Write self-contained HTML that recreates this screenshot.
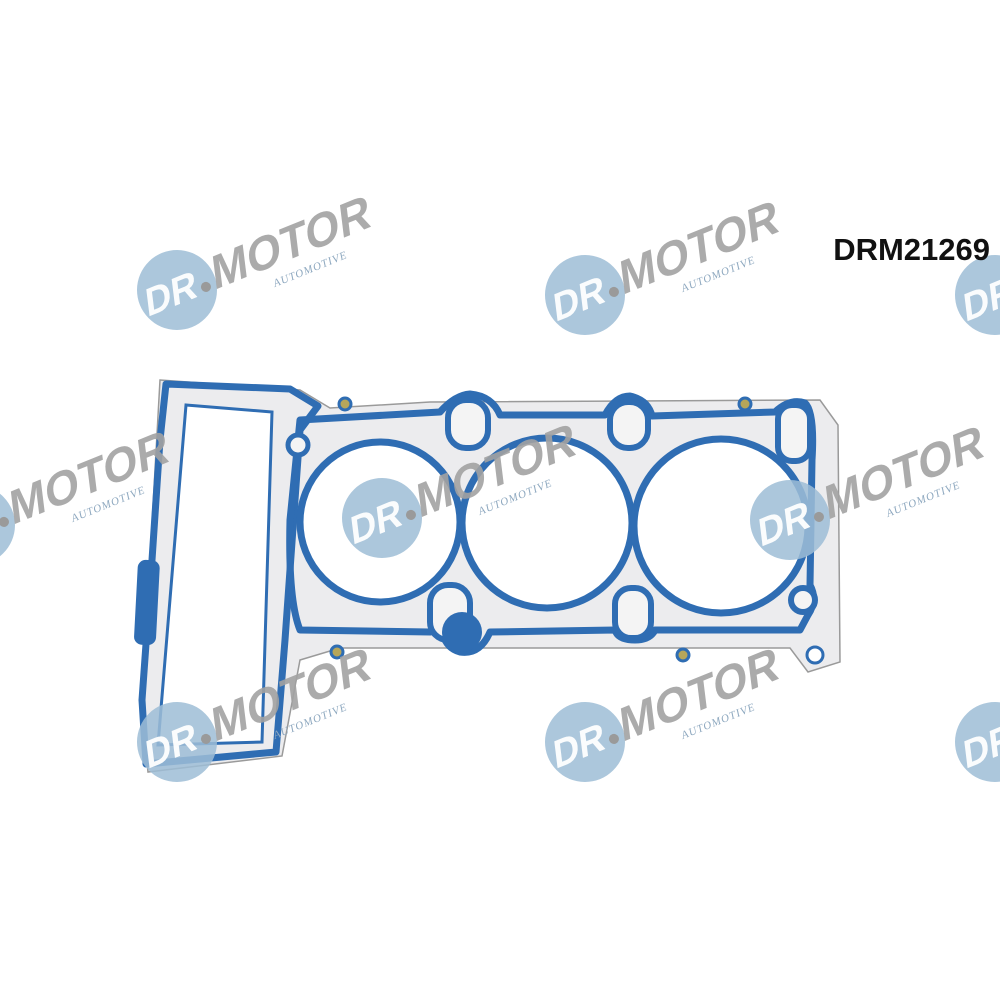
<!DOCTYPE html>
<html><head><meta charset="utf-8"><style>
html,body{margin:0;padding:0;background:#fff}
svg{display:block}
</style></head><body>
<svg width="1000" height="1000" viewBox="0 0 1000 1000" xmlns="http://www.w3.org/2000/svg">
<defs>
<g id="wm">
  <circle cx="0" cy="0" r="40" fill="#9dbdd6" opacity="0.85"/>
  <g transform="skewX(-15)">
  <text x="-34" y="14" font-family="Liberation Sans, sans-serif" font-weight="bold" font-size="38" fill="#fff" opacity="0.95">DR</text>
  <text x="38" y="14" font-family="Liberation Sans, sans-serif" font-weight="bold" font-size="46" fill="#a2a2a2" opacity="0.9">MOTOR</text>
  </g>
  <circle cx="28" cy="8" r="5" fill="#9a9a9a"/>
  <text x="92" y="34" font-family="Liberation Serif, serif" font-style="italic" font-size="11" fill="#8fa9c0" letter-spacing="1">AUTOMOTIVE</text>
</g>
</defs>
<rect width="1000" height="1000" fill="#fff"/>

<path d="M160,380 L300,390 L330,408 L430,402 L820,400 L838,425 L840,662 L808,672 L790,648 L340,648 L300,660 L282,756 L148,772 L140,700 L150,560 Z" fill="#ececee" stroke="#9a9a9a" stroke-width="1.5"/>
<path d="M186,405 L272,412 L262,742 L158,745 Z" fill="#fff" stroke="#2f6db3" stroke-width="3"/>
<path d="M166,384 L290,389 L318,406 L300,430 L285,640 L276,752 L146,764 L142,700 L152,560 L160,440 Z" fill="none" stroke="#2f6db3" stroke-width="7" stroke-linejoin="round"/>
<rect x="136" y="560" width="22" height="85" rx="8" fill="#2f6db3" transform="rotate(3 147 600)"/>

<path d="M300,420 L440,412 Q455,395 470,394 Q492,396 500,415 L605,415 Q615,396 630,396 Q648,400 652,416 L775,412 Q790,398 805,403 Q815,412 812,460 L810,585 Q818,600 808,615 L800,630 L655,630 Q650,640 635,640 Q618,640 615,630 L490,632 Q480,655 460,652 Q445,648 442,630 L430,632 L300,630 Q288,600 290,520 Z" fill="none" stroke="#2f6db3" stroke-width="7" stroke-linejoin="round"/>
<circle cx="380" cy="522" r="80" fill="#fff" stroke="#2f6db3" stroke-width="7"/>
<circle cx="547" cy="523" r="85" fill="#fff" stroke="#2f6db3" stroke-width="7"/>
<circle cx="721" cy="526" r="87" fill="#fff" stroke="#2f6db3" stroke-width="7"/>
<rect x="448" y="400" width="40" height="48" rx="18" fill="#f4f4f4" stroke="#2f6db3" stroke-width="6"/>
<rect x="610" y="402" width="38" height="46" rx="18" fill="#f4f4f4" stroke="#2f6db3" stroke-width="6"/>
<rect x="778" y="405" width="32" height="56" rx="14" fill="#f4f4f4" stroke="#2f6db3" stroke-width="6"/>
<rect x="430" y="585" width="40" height="55" rx="18" fill="#f4f4f4" stroke="#2f6db3" stroke-width="6"/>
<rect x="615" y="588" width="36" height="50" rx="16" fill="#f4f4f4" stroke="#2f6db3" stroke-width="6"/>
<circle cx="803" cy="600" r="12" fill="#f4f4f4" stroke="#2f6db3" stroke-width="6"/>
<circle cx="298" cy="445" r="10" fill="#f4f4f4" stroke="#2f6db3" stroke-width="5"/>
<circle cx="462" cy="632" r="20" fill="#2f6db3"/>
<circle cx="345" cy="404" r="6" fill="#b6a65a" stroke="#2f6db3" stroke-width="3"/>
<circle cx="745" cy="404" r="6" fill="#b6a65a" stroke="#2f6db3" stroke-width="3"/>
<circle cx="337" cy="652" r="6" fill="#b6a65a" stroke="#2f6db3" stroke-width="3"/>
<circle cx="683" cy="655" r="6" fill="#b6a65a" stroke="#2f6db3" stroke-width="3"/>
<circle cx="815" cy="655" r="8" fill="#fff" stroke="#2f6db3" stroke-width="3"/>

<use href="#wm" transform="translate(177,290) rotate(-22)"/>
<use href="#wm" transform="translate(585,295) rotate(-22)"/>
<use href="#wm" transform="translate(995,295) rotate(-22)"/>
<use href="#wm" transform="translate(382,518) rotate(-22)"/>
<use href="#wm" transform="translate(790,520) rotate(-22)"/>
<use href="#wm" transform="translate(-25,525) rotate(-22)"/>
<use href="#wm" transform="translate(177,742) rotate(-22)"/>
<use href="#wm" transform="translate(585,742) rotate(-22)"/>
<use href="#wm" transform="translate(995,742) rotate(-22)"/>

<text x="990" y="260" text-anchor="end" font-family="Liberation Sans, sans-serif" font-weight="bold" font-size="31" fill="#111">DRM21269</text>
</svg>
</body></html>
